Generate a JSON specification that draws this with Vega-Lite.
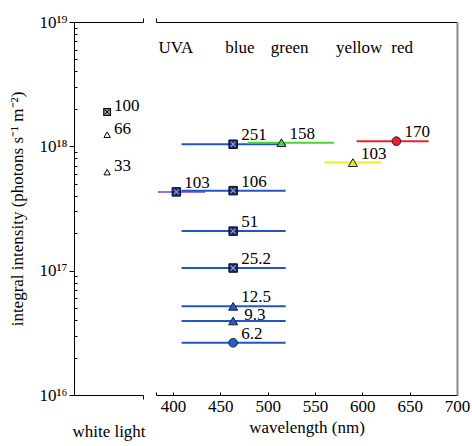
{
  "$schema": "https://vega.github.io/schema/vega-lite/v6.json",
  "padding": {"left": 8, "top": 13, "right": 5, "bottom": 5},
  "spacing": 9,
  "config": {
    "font": "Liberation Serif",
    "view": {"stroke": null},
    "axis": {
      "labelFont": "Liberation Serif",
      "titleFont": "Liberation Serif",
      "labelFontSize": 17,
      "titleFontSize": 17,
      "titleFontWeight": "normal",
      "labelColor": "black",
      "titleColor": "black",
      "domainColor": "black",
      "tickColor": "black",
      "grid": false,
      "labelOverlap": false,
      "labelFlush": false
    },
    "text": {"font": "Liberation Serif", "fontSize": 17}
  },
  "datasets": {
    "white": [
      {"pos": 0.48, "intensity": 1.89e18, "label": "100", "marker": "sq"},
      {"pos": 0.48, "intensity": 1.24e18, "label": "66", "marker": "tri"},
      {"pos": 0.48, "intensity": 6.2e17, "label": "33", "marker": "tri"}
    ],
    "spectral": [
      {"band": "UVA", "wl": 403.5, "lo": 384, "hi": 434, "intensity": 4.3e17, "label": "103", "marker": "sq"},
      {"band": "blue", "wl": 463.5, "lo": 409, "hi": 519, "intensity": 1.04e18, "label": "251", "marker": "sq"},
      {"band": "blue", "wl": 463.5, "lo": 409, "hi": 519, "intensity": 4.4e17, "label": "106", "marker": "sq"},
      {"band": "blue", "wl": 463.5, "lo": 409, "hi": 519, "intensity": 2.08e17, "label": "51", "marker": "sq"},
      {"band": "blue", "wl": 463.5, "lo": 409, "hi": 519, "intensity": 1.05e17, "label": "25.2", "marker": "sq"},
      {"band": "blue", "wl": 463.5, "lo": 409, "hi": 519, "intensity": 5.17e16, "label": "12.5", "marker": "tri"},
      {"band": "blue", "wl": 463.5, "lo": 409, "hi": 519, "intensity": 3.94e16, "label": "9.3", "marker": "tri"},
      {"band": "blue", "wl": 463.5, "lo": 409, "hi": 519, "intensity": 2.63e16, "label": "6.2", "marker": "circ"},
      {"band": "green", "wl": 514.5, "lo": 479, "hi": 570, "intensity": 1.07e18, "label": "158", "marker": "tri"},
      {"band": "yellow", "wl": 590, "lo": 560, "hi": 620.5, "intensity": 7.4e17, "label": "103", "marker": "tri"},
      {"band": "red", "wl": 636, "lo": 594, "hi": 670, "intensity": 1.1e18, "label": "170", "marker": "circ"}
    ],
    "headers": [
      {"wl": 403, "text": "UVA"},
      {"wl": 470.7, "text": "blue"},
      {"wl": 523.3, "text": "green"},
      {"wl": 596.7, "text": "yellow"},
      {"wl": 642, "text": "red"}
    ]
  },
  "hconcat": [
    {
      "width": 69,
      "height": 373,
      "data": {"name": "white"},
      "layer": [
        {
          "transform": [{"filter": "datum.marker === 'sq'"}],
          "mark": {"type": "point", "filled": true, "shape": "square", "fill": "white", "stroke": "black", "strokeWidth": 1.4, "size": 42, "opacity": 1},
          "encoding": {
            "x": {"field": "pos", "type": "quantitative", "scale": {"domain": [0, 1], "nice": false, "zero": false},
              "axis": {"orient": "bottom", "values": [1], "labels": false, "tickSize": 4, "title": "white light", "titlePadding": 24}},
            "y": {"field": "intensity", "type": "quantitative", "scale": {"type": "log", "domain": [1e16, 1e19], "nice": false},
              "axis": {
                "orient": "left",
                "values": [1e16, 2e16, 3e16, 4e16, 5e16, 6e16, 7e16, 8e16, 9e16, 1e17, 2e17, 3e17, 4e17, 5e17, 6e17, 7e17, 8e17, 9e17, 1e18, 2e18, 3e18, 4e18, 5e18, 6e18, 7e18, 8e18, 9e18, 1e19],
                "labelExpr": "abs(log(datum.value)/LN10 - round(log(datum.value)/LN10)) < 0.001 ? (round(log(datum.value)/LN10) == 16 ? '10¹⁶' : round(log(datum.value)/LN10) == 17 ? '10¹⁷' : round(log(datum.value)/LN10) == 18 ? '10¹⁸' : '10¹⁹') : ''",
                "tickSize": {"condition": {"test": "abs(log(datum.value)/LN10 - round(log(datum.value)/LN10)) < 0.001", "value": 5}, "value": -3},
                "labelPadding": 2,
                "title": "integral intensity (photons s⁻¹ m⁻²)",
                "titlePadding": 12
              }}
          }
        },
        {
          "transform": [{"filter": "datum.marker === 'tri'"}],
          "mark": {"type": "point", "filled": true, "shape": "triangle-up", "fill": "white", "stroke": "black", "strokeWidth": 1, "size": 40, "opacity": 1},
          "encoding": {
            "x": {"field": "pos", "type": "quantitative", "axis": null},
            "y": {"field": "intensity", "type": "quantitative", "axis": null}
          }
        },
        {
          "transform": [{"filter": "datum.marker === 'sq'"}],
          "mark": {"type": "point", "filled": false, "shape": "M-0.6,-0.6L0.6,0.6M0.6,-0.6L-0.6,0.6", "stroke": "black", "strokeWidth": 1.2, "size": 42, "opacity": 1},
          "encoding": {
            "x": {"field": "pos", "type": "quantitative", "axis": null},
            "y": {"field": "intensity", "type": "quantitative", "axis": null}
          }
        },
        {
          "mark": {"type": "text", "font": "Liberation Serif", "align": "left", "baseline": "alphabetic", "dx": 7, "dy": -1, "fontSize": 17, "color": "black"},
          "encoding": {
            "x": {"field": "pos", "type": "quantitative",
              "axis": {"orient": "top", "values": [1], "labels": false, "tickSize": 4, "title": null}},
            "y": {"field": "intensity", "type": "quantitative", "axis": null},
            "text": {"field": "label"}
          }
        }
      ],
      "resolve": {"axis": {"x": "independent", "y": "independent"}}
    },
    {
      "width": 301,
      "height": 373,
      "layer": [
        {
          "data": {"name": "spectral"},
          "mark": {"type": "rule", "strokeWidth": 2},
          "encoding": {
            "x": {"field": "lo", "type": "quantitative", "scale": {"domain": [382, 700], "nice": false, "zero": false},
              "axis": {"orient": "bottom", "values": [382, 400, 450, 500, 550, 600, 650, 700],
                "labelExpr": "datum.value < 390 ? '' : datum.label", "tickSize": -3, "labelPadding": 6,
                "title": "wavelength (nm)", "titlePadding": 5}},
            "x2": {"field": "hi"},
            "y": {"field": "intensity", "type": "quantitative", "scale": {"type": "log", "domain": [1e16, 1e19], "nice": false}, "axis": null},
            "color": {"field": "band", "type": "nominal",
              "scale": {"domain": ["UVA", "blue", "green", "yellow", "red"], "range": ["#9a70e0", "#2355c4", "#4ad62a", "#e8f02a", "#ea2226"]},
              "legend": null}
          }
        },
        {
          "data": {"name": "spectral"},
          "transform": [{"filter": "datum.marker === 'sq'"}],
          "mark": {"type": "point", "filled": true, "shape": "square", "fill": "#1b2a66", "stroke": "#0a0f25", "strokeWidth": 1, "size": 72, "opacity": 1},
          "encoding": {
            "x": {"field": "wl", "type": "quantitative", "axis": null},
            "y": {"field": "intensity", "type": "quantitative", "axis": null}
          }
        },
        {
          "data": {"name": "spectral"},
          "transform": [{"filter": "datum.marker === 'sq'"}],
          "mark": {"type": "point", "filled": false, "shape": "M-0.6,-0.6L0.6,0.6M0.6,-0.6L-0.6,0.6", "stroke": "#8aa4e6", "strokeWidth": 1.1, "size": 72, "opacity": 1},
          "encoding": {
            "x": {"field": "wl", "type": "quantitative", "axis": null},
            "y": {"field": "intensity", "type": "quantitative", "axis": null}
          }
        },
        {
          "data": {"name": "spectral"},
          "transform": [{"filter": "datum.marker === 'tri'"}],
          "mark": {"type": "point", "filled": true, "shape": "triangle-up", "stroke": "#141c3c", "strokeWidth": 1, "size": 80, "opacity": 1},
          "encoding": {
            "x": {"field": "wl", "type": "quantitative", "axis": null},
            "y": {"field": "intensity", "type": "quantitative", "axis": null},
            "fill": {"field": "band", "type": "nominal",
              "scale": {"domain": ["UVA", "blue", "green", "yellow", "red"], "range": ["#2a1e5c", "#2b5cc6", "#4ad62a", "#e8f02a", "#ea2226"]},
              "legend": null}
          }
        },
        {
          "data": {"name": "spectral"},
          "transform": [{"filter": "datum.marker === 'circ'"}],
          "mark": {"type": "point", "filled": true, "shape": "circle", "stroke": "#1a2040", "strokeWidth": 1, "size": 75, "opacity": 1},
          "encoding": {
            "x": {"field": "wl", "type": "quantitative", "axis": null},
            "y": {"field": "intensity", "type": "quantitative", "axis": null},
            "fill": {"field": "band", "type": "nominal",
              "scale": {"domain": ["UVA", "blue", "green", "yellow", "red"], "range": ["#2a1e5c", "#2b5cc6", "#4ad62a", "#e8f02a", "#ea2226"]},
              "legend": null}
          }
        },
        {
          "data": {"name": "spectral"},
          "transform": [{"filter": "datum.label !== '9.3'"}],
          "mark": {"type": "text", "font": "Liberation Serif", "align": "left", "baseline": "alphabetic", "dx": 8, "dy": -4, "fontSize": 17, "color": "black"},
          "encoding": {
            "x": {"field": "wl", "type": "quantitative", "axis": null},
            "y": {"field": "intensity", "type": "quantitative", "axis": null},
            "text": {"field": "label"}
          }
        },
        {
          "data": {"name": "spectral"},
          "transform": [{"filter": "datum.label === '9.3'"}],
          "mark": {"type": "text", "font": "Liberation Serif", "align": "left", "baseline": "alphabetic", "dx": 11, "dy": -1, "fontSize": 17, "color": "black"},
          "encoding": {
            "x": {"field": "wl", "type": "quantitative", "axis": null},
            "y": {"field": "intensity", "type": "quantitative", "axis": null},
            "text": {"field": "label"}
          }
        },
        {
          "data": {"name": "headers"},
          "mark": {"type": "text", "font": "Liberation Serif", "align": "center", "baseline": "alphabetic", "fontSize": 17, "color": "black"},
          "encoding": {
            "x": {"field": "wl", "type": "quantitative",
              "axis": {"orient": "top", "values": [382], "labels": false, "tickSize": 4, "title": null}},
            "y": {"datum": 5.66e18, "type": "quantitative",
              "axis": {"orient": "right", "ticks": false, "labels": false, "title": null, "domainColor": "#8a8a8a", "domainWidth": 2}},
            "text": {"field": "text"}
          }
        }
      ],
      "resolve": {"axis": {"x": "independent", "y": "independent"}}
    }
  ]
}
